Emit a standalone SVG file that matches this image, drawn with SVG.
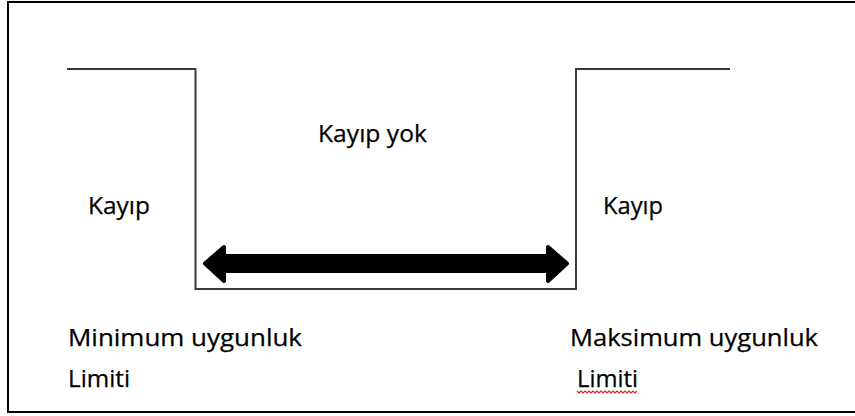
<svg xmlns="http://www.w3.org/2000/svg" width="855" height="416" viewBox="0 0 855 416">
  <style>
    .frame { fill: #ffffff; stroke: #000000; stroke-width: 2; }
    .profile { fill: none; stroke: #3a3a3a; stroke-width: 2; stroke-linejoin: miter; }
    .arrow { fill: #000000; stroke: #000000; stroke-width: 4; stroke-linejoin: round; }
    .label { font-family: "Open Sans", Lato, "Liberation Sans", sans-serif; font-size: 23.5px; fill: #000000; stroke: #000000; stroke-width: 0.25; }
    .spell { fill: none; stroke: #e02020; stroke-width: 1.2; }
  </style>

  <!-- page frame (right edge runs off the page) -->
  <rect class="frame" x="8" y="2" width="900" height="410"/>

  <!-- tolerance profile: high plateaus outside the limits, low trough between them -->
  <g id="profile">
    <path class="profile" d="M67,69 H195.5 V289 H576 V69 H730"/>
  </g>

  <!-- double-headed span between the two limits -->
  <g id="range-arrow">
    <path class="arrow" d="M205,263.5 L224,247 L224,256 L548,256 L548,247 L567,263.5 L548,281 L548,271 L224,271 L224,281 Z"/>
  </g>

  <g id="zone-no-loss">
    <text class="label" x="318" y="142" textLength="109" lengthAdjust="spacingAndGlyphs">Kayıp yok</text>
  </g>

  <g id="zone-loss-left">
    <text class="label" x="88" y="214" textLength="62" lengthAdjust="spacingAndGlyphs">Kayıp</text>
  </g>

  <g id="zone-loss-right">
    <text class="label" x="603" y="214" textLength="60" lengthAdjust="spacingAndGlyphs">Kayıp</text>
  </g>

  <g id="limit-min">
    <text class="label" x="68" y="346" textLength="234" lengthAdjust="spacingAndGlyphs">Minimum uygunluk</text>
    <text class="label" x="68" y="387" textLength="62" lengthAdjust="spacingAndGlyphs">Limiti</text>
  </g>

  <g id="limit-max">
    <text class="label" x="570" y="346" textLength="248" lengthAdjust="spacingAndGlyphs">Maksimum uygunluk</text>
    <text class="label" x="577" y="387" textLength="61" lengthAdjust="spacingAndGlyphs">Limiti</text>
    <path class="spell" d="M577,391 l2,2 l2,-2 l2,2 l2,-2 l2,2 l2,-2 l2,2 l2,-2 l2,2 l2,-2 l2,2 l2,-2 l2,2 l2,-2 l2,2 l2,-2 l2,2 l2,-2 l2,2 l2,-2 l2,2 l2,-2 l2,2 l2,-2 l2,2 l2,-2 l2,2 l2,-2 l2,2 l2,-2"/>
  </g>
</svg>
